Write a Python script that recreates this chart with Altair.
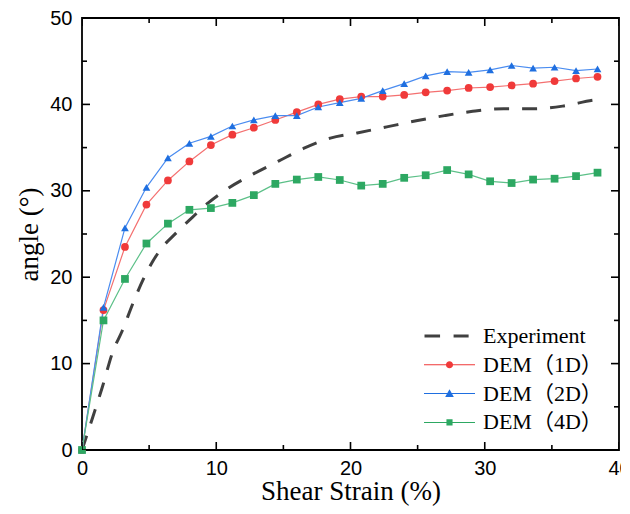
import altair as alt
import pandas as pd

strain = [0, 1.6, 3.2, 4.8, 6.4, 8.0, 9.6, 11.2, 12.8, 14.4, 16.0, 17.6, 19.2,
          20.8, 22.4, 24.0, 25.6, 27.2, 28.8, 30.4, 32.0, 33.6, 35.2, 36.8, 38.4]
dem_1d = [0, 16.2, 23.5, 28.4, 31.2, 33.4, 35.3, 36.5, 37.3, 38.2, 39.1, 40.0, 40.6,
          40.9, 40.9, 41.1, 41.4, 41.6, 41.9, 42.0, 42.2, 42.4, 42.7, 43.0, 43.2]
dem_2d = [0, 16.5, 25.7, 30.4, 33.8, 35.5, 36.3, 37.5, 38.2, 38.7, 38.7, 39.7, 40.2,
          40.7, 41.6, 42.4, 43.3, 43.8, 43.7, 44.0, 44.5, 44.2, 44.3, 43.9, 44.1]
dem_4d = [0, 15.0, 19.8, 23.9, 26.2, 27.8, 28.0, 28.6, 29.5, 30.8, 31.3, 31.6, 31.25,
          30.6, 30.8, 31.5, 31.8, 32.4, 31.9, 31.1, 30.9, 31.3, 31.4, 31.7, 32.1]

exp_x = [0, 0.8, 1.5, 2.3, 3.0, 3.8, 4.7, 5.8, 7.0, 8.2, 9.4, 10.8, 12.7, 14.6, 16.5,
         18.5, 20.5, 22.7, 24.9, 27.0, 29.1, 31.4, 33.6, 35.8, 38.1, 38.6]
exp_y = [0, 3.8, 7.2, 11.4, 13.8, 17.0, 20.2, 23.1, 25.1, 26.9, 28.6, 30.2, 31.9, 33.4,
         34.9, 36.1, 36.7, 37.4, 38.1, 38.7, 39.2, 39.5, 39.5, 39.8, 40.5, 40.6]

series = ["Experiment", "DEM（1D）", "DEM（2D）", "DEM（4D）"]
dem_series = series[1:]
marker_colors = ["#404040", "#F03A3A", "#1F6FE0", "#2DA862"]
line_colors = ["#F47070", "#4A8CF0", "#5CC088"]
marker_shapes = ["circle", "triangle-up", "square"]

x_major = [0, 10, 20, 30, 40]
x_minor = [5, 15, 25, 35]
y_major = [0, 10, 20, 30, 40, 50]
y_minor = [5, 15, 25, 35, 45]

# legend symbols: line + marker as filled paths (unit = sqrt(size)/2)
leg_paths = [
    "M-0.98,-0.06H-0.37V0.06H-0.98Z M0.16,-0.06H0.75V0.06H0.16Z",
    "M-1,-0.02H1V0.02H-1Z M0.14,0A0.14,0.14 0 1,1 -0.14,0A0.14,0.14 0 1,1 0.14,0Z",
    "M-1,-0.02H1V0.02H-1Z M0,-0.17L0.17,0.13H-0.17Z",
    "M-1,-0.02H1V0.02H-1Z M-0.12,-0.12H0.12V0.12H-0.12Z",
]

rows = []
for name, vals in zip(dem_series, [dem_1d, dem_2d, dem_4d]):
    for xv, yv in zip(strain, vals):
        rows.append({"series": name, "x": xv, "y": yv})
for xv, yv in zip(exp_x, exp_y):
    rows.append({"series": "Experiment", "x": xv, "y": yv})
df = pd.DataFrame(rows)

W, H = 537, 432
X_MIN, X_MAX, Y_MIN, Y_MAX = 0, 40, 0, 50
xs = alt.Scale(domain=[X_MIN, X_MAX], nice=False)
ys = alt.Scale(domain=[Y_MIN, Y_MAX], nice=False)

base = alt.Chart(df)

exp_line = base.transform_filter(alt.datum.series == "Experiment").mark_line(
    color="#404040", strokeWidth=3, strokeDash=[15, 13], interpolate="monotone"
).encode(
    x=alt.X("x:Q", scale=xs, axis=alt.Axis(
        orient="bottom", values=x_major, ticks=False, tickSize=0, domain=False, grid=False,
        labelFlush=False,
        labelFont="Liberation Sans", labelFontSize=20, labelColor="black", labelPadding=8,
        title="Shear Strain (%)", titleFont="Liberation Serif", titleFontSize=27,
        titleFontWeight="normal", titleColor="black", titlePadding=0)),
    y=alt.Y("y:Q", scale=ys, axis=alt.Axis(
        orient="left", values=y_major, ticks=False, tickSize=0, domain=False, grid=False,
        labelFlush=False,
        labelFont="Liberation Sans", labelFontSize=20, labelColor="black", labelPadding=10,
        title="angle (°)", titleFont="Liberation Serif", titleFontSize=27,
        titleFontWeight="normal", titleColor="black", titlePadding=6)),
)

dem_lines = base.transform_filter(alt.datum.series != "Experiment").mark_line(
    strokeWidth=1.2
).encode(
    x=alt.X("x:Q", scale=xs, axis=None),
    y=alt.Y("y:Q", scale=ys, axis=None),
    stroke=alt.Stroke("series:N", scale=alt.Scale(domain=dem_series, range=line_colors),
                      legend=None),
    detail="series:N",
)

dem_points = base.transform_filter(alt.datum.series != "Experiment").mark_point(
    filled=True, opacity=1, size=60
).encode(
    x=alt.X("x:Q", scale=xs, axis=None),
    y=alt.Y("y:Q", scale=ys, axis=None),
    fill=alt.Fill("series:N", scale=alt.Scale(domain=dem_series, range=marker_colors[1:]),
                  legend=None),
    shape=alt.Shape("series:N", scale=alt.Scale(domain=dem_series, range=marker_shapes),
                    legend=None),
)


# inward tick marks on the four frame edges: ticks centred on the edge, clipped to the plot
def x_ticks(values, edge, length):
    d = pd.DataFrame({"v": values, "e": [edge] * len(values)})
    return alt.Chart(d).mark_tick(color="black", thickness=1.6, size=2 * length,
                                  orient="vertical", clip=True, opacity=1).encode(
        x=alt.X("v:Q", scale=xs, axis=None),
        y=alt.Y("e:Q", scale=ys, axis=None),
    )


def y_ticks(values, edge, length):
    d = pd.DataFrame({"v": values, "e": [edge] * len(values)})
    return alt.Chart(d).mark_tick(color="black", thickness=1.6, size=2 * length,
                                  orient="horizontal", clip=True, opacity=1).encode(
        y=alt.Y("v:Q", scale=ys, axis=None),
        x=alt.X("e:Q", scale=xs, axis=None),
    )


tick_layers = [
    x_ticks(x_major, Y_MIN, 8), x_ticks(x_minor, Y_MIN, 5),
    x_ticks(x_major, Y_MAX, 8), x_ticks(x_minor, Y_MAX, 5),
    y_ticks(y_major, X_MIN, 8), y_ticks(y_minor, X_MIN, 5),
    y_ticks(y_major, X_MAX, 8), y_ticks(y_minor, X_MAX, 5),
]

leg = alt.Legend(title=None, orient="none", legendX=342, legendY=307,
                 symbolSize=2601, symbolStrokeWidth=0, clipHeight=22,
                 labelFont="Liberation Serif, Noto Sans CJK SC",
                 labelFontSize=22, labelColor="black",
                 labelOffset=8, rowPadding=6.8, padding=0, labelLimit=300)

legend_layer = base.transform_filter(alt.datum.x == 0).mark_point(
    filled=True, opacity=1
).encode(
    x=alt.X("x:Q", scale=xs, axis=None),
    y=alt.Y("y:Q", scale=ys, axis=None),
    size=alt.value(0),
    color=alt.Color("series:N", scale=alt.Scale(domain=series, range=marker_colors),
                    legend=leg),
    shape=alt.Shape("series:N", scale=alt.Scale(domain=series, range=leg_paths),
                    legend=leg),
)

chart = alt.layer(exp_line, dem_lines, dem_points, *tick_layers, legend_layer).resolve_scale(
    shape="independent", color="independent", fill="independent", stroke="independent"
).resolve_axis(
    x="independent", y="independent"
).properties(
    width=W, height=H,
    autosize=alt.AutoSizeParams(type="none"),
    padding={"left": 74, "top": 10, "right": 2, "bottom": 56},
    background="white",
).configure_view(
    stroke="black", strokeWidth=1.8
)

chart.save("out.html", embed_options={"renderer": "svg", "actions": False})
